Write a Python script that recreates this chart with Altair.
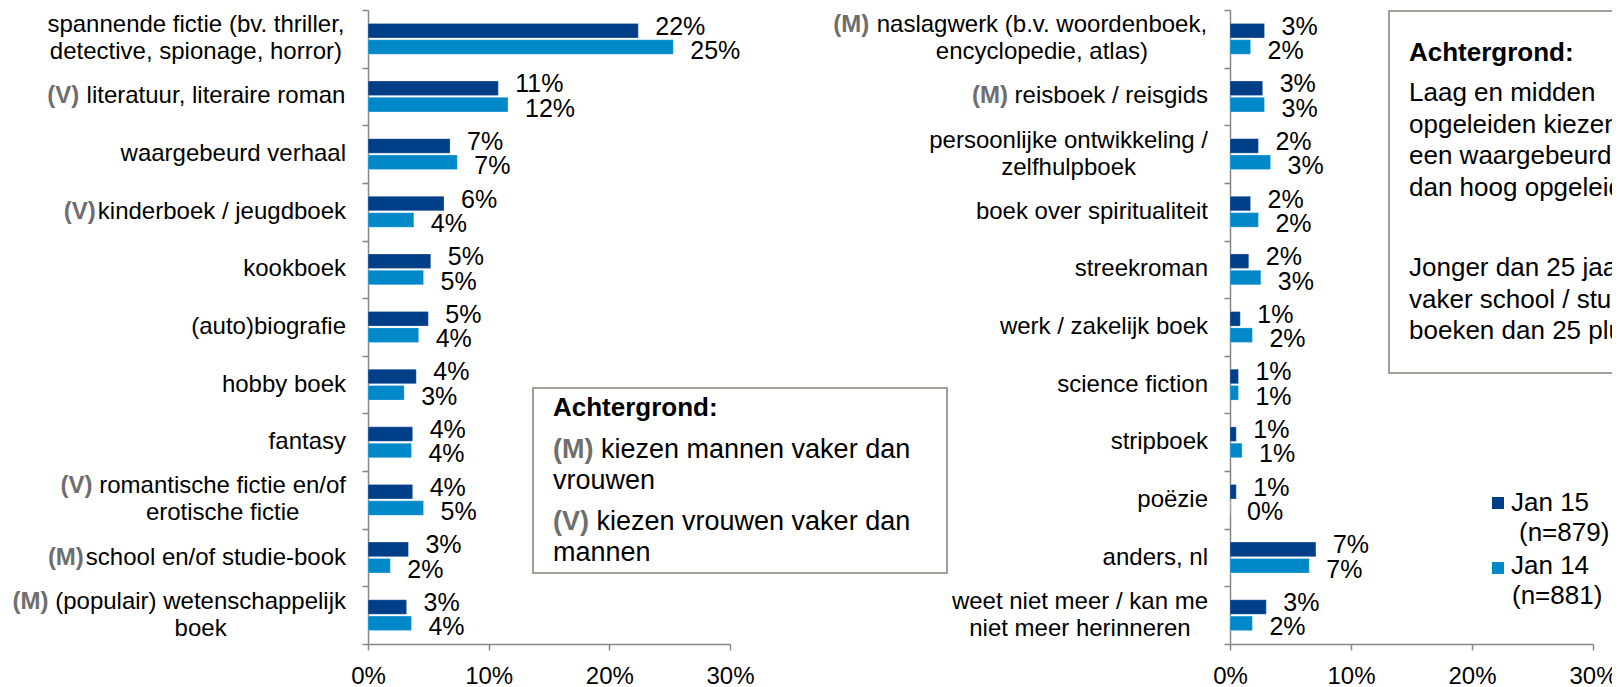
import altair as alt
import pandas as pd

FONT = "Liberation Sans"
FS = 24
FS_VAL = 25
FS_BOX = 26
FS_LBOX = 27
AX = "#868686"
TAG_GRAY = "#6e6e6e"
BOX = "#a59d96"

# ---------------- data ----------------
left_labels = [
    "spannende fictie (bv. thriller,\ndetective, spionage, horror)",
    "literatuur, literaire roman",
    "waargebeurd verhaal",
    "kinderboek / jeugdboek",
    "kookboek",
    "(auto)biografie",
    "hobby boek",
    "fantasy",
    "romantische fictie en/of\nerotische fictie",
    "school en/of studie-book",
    "(populair) wetenschappelijk\nboek",
]
left_tags = ["", "(V) ", "", "(V)", "", "", "", "", "(V) ", "(M)", "(M) "]
left_jan15 = [22.4, 10.8, 6.8, 6.3, 5.2, 5.0, 4.0, 3.7, 3.7, 3.35, 3.2]
left_jan14 = [25.3, 11.6, 7.4, 3.8, 4.6, 4.2, 3.0, 3.6, 4.6, 1.85, 3.6]

right_labels = [
    "naslagwerk (b.v. woordenboek,\nencyclopedie, atlas)",
    "reisboek / reisgids",
    "persoonlijke ontwikkeling /\nzelfhulpboek",
    "boek over spiritualiteit",
    "streekroman",
    "werk / zakelijk boek",
    "science fiction",
    "stripboek",
    "poëzie",
    "anders, nl",
    "weet niet meer / kan me\nniet meer herinneren",
]
right_tags = ["(M) ", "(M) ", "", "", "", "", "", "", "", "", ""]
right_jan15 = [2.85, 2.7, 2.35, 1.7, 1.55, 0.85, 0.7, 0.52, 0.52, 7.1, 3.0]
right_jan14 = [1.7, 2.85, 3.35, 2.35, 2.55, 1.85, 0.7, 1.0, 0.0, 6.55, 1.85]

series = ["Jan 15", "Jan 14"]
series_n = ["(n=879)", "(n=881)"]
colors = ["#003f87", "#0088c9"]
tick_values = [0, 10, 20, 30]

left_box_title = "Achtergrond:"
left_box_tags = ["(M)", "(V)"]
left_box_first = ["kiezen mannen vaker dan", "kiezen vrouwen vaker dan"]
left_box_second = ["vrouwen", "mannen"]

right_box_title = "Achtergrond:"
right_box_lines = [
    "Laag en midden",
    "opgeleiden kiezen vaker",
    "een waargebeurd boek",
    "dan hoog opgeleiden",
    "Jonger dan 25 jaar kiezen",
    "vaker school / studie",
    "boeken dan 25 plus",
]

# ---------------- text metrics (Arial / Liberation Sans) ----------------
REG = {}
for ch in "ijl":
    REG[ch] = 222
for ch in " ,./:ftI!":
    REG[ch] = 278
for ch in "r()-":
    REG[ch] = 333
for ch in "cksvxyzJ":
    REG[ch] = 500
for ch in "mM":
    REG[ch] = 833
REG["w"] = 722
REG["W"] = 944
REG["%"] = 889
REG["="] = 584
BOLD = {"(": 333, ")": 333, "M": 833, "V": 667, " ": 278}


def tw(s, size=FS, bold=False):
    tbl = BOLD if bold else REG
    return sum(tbl.get(c, 556) for c in s) * size / 1000.0


LABEL_GAP = 22
LINE_H = 27
PLOT_H = 634


def txt(**kw):
    base = dict(font=FONT, fontSize=FS, color="black", baseline="middle", align="left")
    base.update(kw)
    return base


def panel(labels, tags, v15, v14, width, extra_layers):
    rows = []
    for lab, a, b in zip(labels, v15, v14):
        rows.append({"cat": lab, "series": series[0], "v": a})
        rows.append({"cat": lab, "series": series[1], "v": b})
    df = pd.DataFrame(rows)

    lrows, trows = [], []
    for lab, tag in zip(labels, tags):
        lines = lab.split("\n")
        ws = [tw(l) for l in lines]
        cx = -(LABEL_GAP + max(ws) / 2.0)
        lrows.append({"cat": lab, "lx": cx, "nl": len(lines)})
        if tag.strip():
            gap = max(2.0, tw(tag[len(tag.rstrip()):]))
            trows.append({"cat": lab, "tag": tag.strip(),
                          "tx": cx - ws[0] / 2.0 - gap, "nl": len(lines)})
    ldf = pd.DataFrame(lrows)
    tdf = pd.DataFrame(trows)

    y_enc = alt.Y(
        "cat:N", sort=labels,
        scale=alt.Scale(paddingInner=0, paddingOuter=0),
        axis=alt.Axis(labels=False, title=None, tickBand="extent", domainColor=AX,
                      tickColor=AX, tickSize=6, domainWidth=1.5, tickWidth=1.5),
    )
    x_enc = alt.X(
        "v:Q",
        scale=alt.Scale(domain=[0, 30], nice=False, zero=True),
        axis=alt.Axis(values=tick_values, labelExpr="datum.value + '%'", title=None,
                      grid=False, domainColor=AX, domainWidth=1.5,
                      tickColor=AX, tickWidth=1.5, tickSize=6, labelFontSize=FS,
                      labelFont=FONT, labelColor="black", labelPadding=14,
                      labelFlush=False, labelOverlap=False),
    )
    yoff = alt.YOffset("series:N", sort=series,
                       scale=alt.Scale(domain=series, paddingInner=0.11, paddingOuter=0.82))
    col = alt.Color("series:N", scale=alt.Scale(domain=series, range=colors), legend=None)

    bars = alt.Chart(df).mark_bar(stroke="#ffffff", strokeWidth=0.5, strokeOpacity=0.5).encode(
        x=x_enc, y=y_enc, yOffset=yoff, color=col)

    def value_labels(sname, dy):
        return alt.Chart(df).transform_filter(alt.datum.series == sname).transform_calculate(
            lab="format(datum.v, '.0f') + '%'"
        ).mark_text(**txt(dx=17, dy=dy, fontSize=FS_VAL)).encode(
            x=x_enc, y=y_enc, yOffset=yoff, text="lab:N")

    layers = [bars, value_labels(series[0], -4), value_labels(series[1], 4)]
    for nl in (1, 2):
        lsub = ldf[ldf["nl"] == nl]
        if len(lsub):
            layers.append(
                alt.Chart(lsub).mark_text(
                    **txt(align="center", lineBreak="\n", lineHeight=LINE_H,
                          dy=-(nl - 1) * LINE_H / 2.0)
                ).encode(x=alt.X("lx:Q", scale=None, axis=None), y=y_enc, text="cat:N")
            )
        tsub = tdf[tdf["nl"] == nl] if len(tdf) else tdf
        if len(tsub):
            layers.append(
                alt.Chart(tsub).mark_text(
                    **txt(align="right", fontWeight="bold", color=TAG_GRAY,
                          dy=-(nl - 1) * LINE_H / 2.0)
                ).encode(x=alt.X("tx:Q", scale=None, axis=None), y=y_enc, text="tag:N")
            )
    layers += extra_layers
    return alt.layer(*layers).properties(width=width, height=PLOT_H)


def one():
    return alt.Chart(pd.DataFrame({"k": [0]}))


def px_text(df, **kw):
    return alt.Chart(df).mark_text(**txt(**kw)).encode(
        x=alt.X("px:Q", scale=None, axis=None), y=alt.Y("py:Q", scale=None, axis=None),
        text="t:N")


# ---------------- left panel extras ----------------
left_box = one().mark_rect(fill="white", stroke=BOX, strokeWidth=2).encode(
    x=alt.value(165), x2=alt.value(579), y=alt.value(378), y2=alt.value(563))

BX = 185
rest_x = [BX + tw(t, FS_LBOX, bold=True) + tw(" ", FS_LBOX) for t in left_box_tags]
lb_plain = pd.DataFrame({
    "t": [left_box_first[0], left_box_second[0], left_box_first[1], left_box_second[1]],
    "px": [rest_x[0], BX, rest_x[1], BX],
    "py": [440, 471, 512, 543],
})
lb_tags = pd.DataFrame({"t": left_box_tags, "px": [BX, BX], "py": [440, 512]})
lb_title = pd.DataFrame({"t": [left_box_title], "px": [BX], "py": [398]})

left_box_text = [
    px_text(lb_title, fontWeight="bold", fontSize=FS_BOX),
    px_text(lb_tags, fontWeight="bold", color=TAG_GRAY, fontSize=FS_LBOX),
    px_text(lb_plain, fontSize=FS_LBOX),
]

# ---------------- right panel extras ----------------
right_box = one().mark_rect(fill="white", stroke=BOX, strokeWidth=2).encode(
    x=alt.value(159), x2=alt.value(420), y=alt.value(1), y2=alt.value(363))

rb_title = pd.DataFrame({"t": [right_box_title], "px": [179], "py": [43]})
rb_lines = pd.DataFrame({"t": right_box_lines, "px": [179] * 7,
                         "py": [83, 115, 146, 178, 258, 290, 321]})
right_box_text = [
    px_text(rb_title, fontWeight="bold", fontSize=FS_BOX),
    px_text(rb_lines, fontSize=FS_BOX),
]

leg_sym = pd.DataFrame({"series": series, "px": [268, 268], "py": [493, 558]})
leg_txt = pd.DataFrame({"t": [series[0], series_n[0], series[1], series_n[1]],
                        "px": [281, 289, 281, 282], "py": [493, 523, 556, 586]})
legend_layers = [
    alt.Chart(leg_sym).mark_square(size=144, opacity=1).encode(
        x=alt.X("px:Q", scale=None, axis=None), y=alt.Y("py:Q", scale=None, axis=None),
        color=alt.Color("series:N", scale=alt.Scale(domain=series, range=colors), legend=None)),
    px_text(leg_txt, fontSize=FS_BOX),
]

left = panel(left_labels, left_tags, left_jan15, left_jan14, 362,
             [left_box] + left_box_text)
right = panel(right_labels, right_tags, right_jan15, right_jan14, 363,
              [right_box] + right_box_text + legend_layers)

# Fixed-size canvas (1604 x 680): the plot origin sits at (360, 2); anything beyond
# the canvas edge is cropped, as in the reference picture.
chart = alt.hconcat(left, right, spacing=500, bounds="flush").properties(
    autosize=alt.AutoSizeParams(type="none"),
    padding={"left": 360, "right": 1244, "top": 2, "bottom": 678},
).configure_view(strokeWidth=0)

chart.save("out.html", embed_options={"renderer": "svg", "actions": False})
